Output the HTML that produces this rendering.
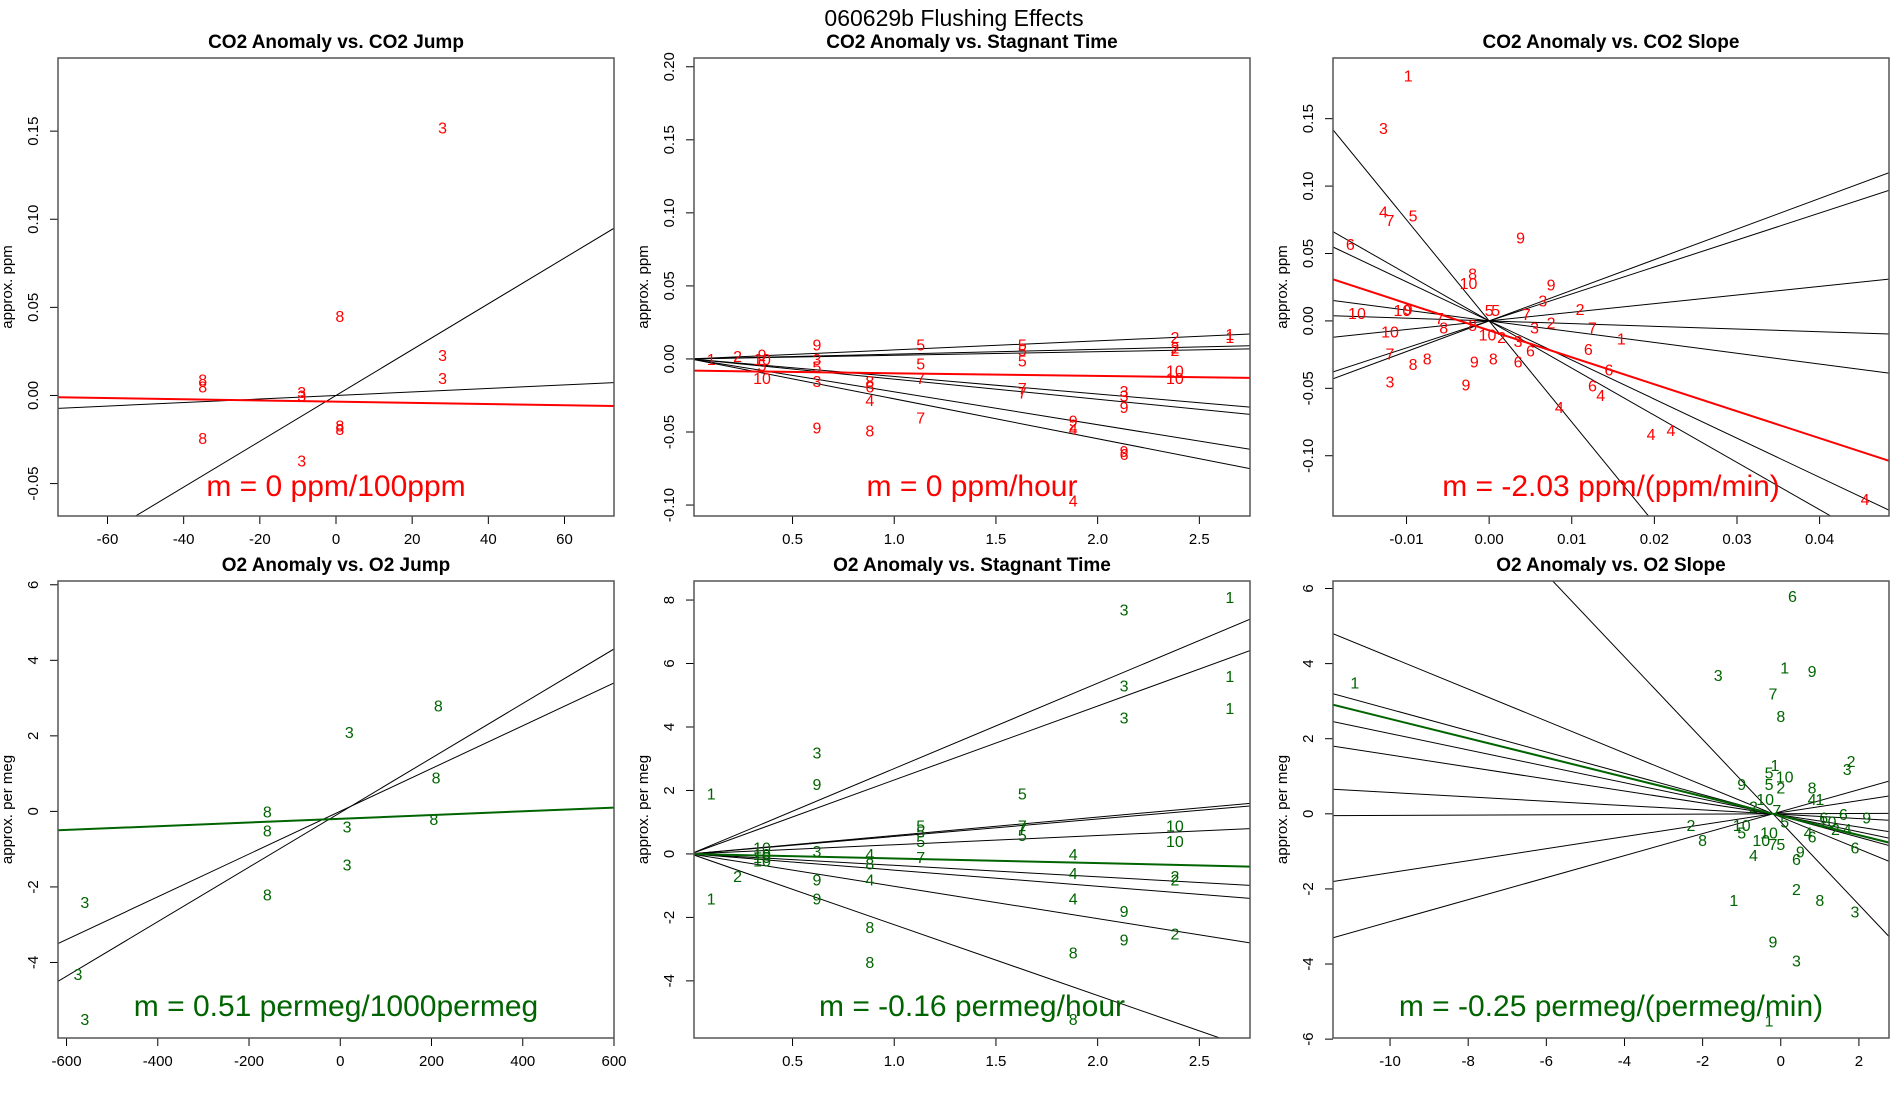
<!DOCTYPE html>
<html><head><meta charset="utf-8"><style>
html,body{margin:0;padding:0;background:#fff}
svg{display:block}
text{font-family:"Liberation Sans",sans-serif}
</style></head><body>
<svg id="chart" width="1900" height="1100" viewBox="0 0 1900 1100" xmlns="http://www.w3.org/2000/svg">
<text x="954" y="26" font-size="23" text-anchor="middle">060629b   Flushing Effects</text>
</svg>
<script>
// ---------- data ----------
const p1Points = [[28,0.152,"3"],[1,0.045,"8"],[28,0.023,"3"],[28,0.01,"3"],[-35,0.009,"8"],[-35,0.005,"8"],[-9,0.002,"3"],[-9,0.0,"3"],[1,-0.017,"8"],[1,-0.019,"8"],[-35,-0.024,"8"],[-9,-0.037,"3"]];
const p1Slopes = [0.0013,0.0001];
const p1Fit = [-0.0035,-0.0000343];
const p2Points = [[0.1,0.0,"1"],[0.23,0.002,"2"],[0.35,0.003,"9"],[0.35,0.0,"10"],[0.35,-0.004,"5"],[0.35,-0.013,"10"],[0.62,0.01,"9"],[0.62,0.0,"3"],[0.62,-0.005,"5"],[0.62,-0.015,"3"],[0.62,-0.047,"9"],[0.88,-0.015,"8"],[0.88,-0.019,"6"],[0.88,-0.028,"4"],[0.88,-0.049,"8"],[1.13,0.01,"5"],[1.13,-0.003,"5"],[1.13,-0.013,"7"],[1.13,-0.04,"7"],[1.63,0.01,"5"],[1.63,0.006,"5"],[1.63,-0.001,"5"],[1.63,-0.02,"7"],[1.63,-0.023,"7"],[1.88,-0.042,"9"],[1.88,-0.045,"2"],[1.88,-0.048,"4"],[1.88,-0.097,"4"],[2.13,-0.022,"3"],[2.13,-0.025,"3"],[2.13,-0.033,"9"],[2.13,-0.063,"9"],[2.13,-0.065,"6"],[2.38,0.015,"2"],[2.38,0.008,"2"],[2.38,0.006,"2"],[2.38,-0.008,"10"],[2.38,-0.013,"10"],[2.65,0.017,"1"],[2.65,0.015,"1"]];
const p2Slopes = [0.0062,0.0033,0.0025,-0.012,-0.0138,-0.0225,-0.0273];
const p2Fit = [-0.008,-0.0018];
const p3Points = [[-0.0098,0.182,"1"],[-0.0128,0.143,"3"],[-0.0128,0.081,"4"],[-0.012,0.075,"7"],[-0.0092,0.078,"5"],[-0.0168,0.057,"6"],[0.0038,0.062,"9"],[-0.002,0.035,"8"],[-0.0025,0.028,"10"],[0.0075,0.027,"9"],[0.0065,0.015,"3"],[-0.016,0.006,"10"],[-0.0105,0.008,"10"],[-0.0098,0.009,"9"],[-0.012,-0.008,"10"],[-0.006,0.002,"7"],[-0.0055,-0.005,"8"],[-0.002,-0.003,"8"],[0.0,0.008,"5"],[0.0008,0.008,"5"],[-0.0002,-0.01,"10"],[0.0015,-0.012,"2"],[0.0045,0.005,"7"],[0.0055,-0.005,"3"],[0.0075,-0.001,"2"],[0.011,0.009,"2"],[0.0125,-0.005,"7"],[0.016,-0.013,"1"],[0.0035,-0.015,"3"],[0.005,-0.022,"6"],[0.012,-0.021,"6"],[0.0145,-0.036,"6"],[0.0125,-0.048,"6"],[0.0035,-0.03,"6"],[0.0005,-0.028,"8"],[-0.0018,-0.03,"9"],[-0.0028,-0.047,"9"],[-0.0075,-0.028,"8"],[-0.0092,-0.032,"8"],[-0.012,-0.024,"7"],[-0.012,-0.045,"3"],[0.0085,-0.064,"4"],[0.0135,-0.055,"4"],[0.0196,-0.084,"4"],[0.022,-0.081,"4"],[0.0455,-0.132,"4"]];
const p3Slopes = [-7.5,-3.5,-2.9,-0.8,-0.2,0.64,2.0,2.27];
const p3Fit = [-0.007,-2.0];
const p4Points = [[-560,-2.4,"3"],[-575,-4.3,"3"],[-560,-5.5,"3"],[20,2.1,"3"],[15,-0.4,"3"],[15,-1.4,"3"],[-160,0.0,"8"],[-160,-0.5,"8"],[-160,-2.2,"8"],[215,2.8,"8"],[210,0.9,"8"],[205,-0.2,"8"]];
const p4Lines = [[-4.5,4.3],[-3.5,3.4]];
const p4Fit = [-0.5,0.1];
const p5Points = [[0.1,1.9,"1"],[0.1,-1.4,"1"],[0.23,-0.7,"2"],[0.35,0.2,"10"],[0.35,0.0,"10"],[0.35,-0.1,"10"],[0.35,-0.2,"10"],[0.62,3.2,"3"],[0.62,2.2,"9"],[0.62,0.1,"3"],[0.62,-0.8,"9"],[0.62,-1.4,"9"],[0.88,0.0,"4"],[0.88,-0.3,"8"],[0.88,-0.8,"4"],[0.88,-2.3,"8"],[0.88,-3.4,"8"],[1.13,0.9,"5"],[1.13,0.7,"5"],[1.13,0.4,"5"],[1.13,-0.1,"7"],[1.63,1.9,"5"],[1.63,0.9,"7"],[1.63,0.8,"7"],[1.63,0.6,"5"],[1.88,0.0,"4"],[1.88,-0.6,"4"],[1.88,-1.4,"4"],[1.88,-3.1,"8"],[1.88,-5.2,"8"],[2.13,7.7,"3"],[2.13,5.3,"3"],[2.13,4.3,"3"],[2.13,-1.8,"9"],[2.13,-2.7,"9"],[2.38,0.9,"10"],[2.38,0.4,"10"],[2.38,-0.7,"2"],[2.38,-0.8,"2"],[2.38,-2.5,"2"],[2.65,8.1,"1"],[2.65,5.6,"1"],[2.65,4.6,"1"]];
const p5Slopes = [2.69,2.33,0.58,0.55,0.29,-0.36,-0.51,-1.02,-2.23];
const p5Fit = [0,-0.145];
const p6Points = [[-10.9,3.5,"1"],[-1.6,3.7,"3"],[0.1,3.9,"1"],[0.8,3.8,"9"],[-0.2,3.2,"7"],[0.0,2.6,"8"],[0.3,5.8,"6"],[1.8,1.4,"2"],[1.7,1.2,"3"],[-1.0,0.8,"9"],[-0.3,1.1,"5"],[-0.15,1.3,"1"],[0.1,1.0,"10"],[-0.3,0.8,"5"],[0.0,0.7,"2"],[0.8,0.7,"8"],[0.8,0.4,"4"],[1.0,0.4,"1"],[-0.4,0.4,"10"],[-0.7,0.2,"2"],[-0.1,0.1,"7"],[0.1,-0.2,"5"],[1.1,-0.1,"6"],[1.6,0.0,"6"],[2.2,-0.1,"9"],[1.2,-0.2,"10"],[1.4,-0.4,"2"],[1.7,-0.4,"4"],[-2.3,-0.3,"2"],[-1.0,-0.3,"10"],[-1.0,-0.5,"5"],[-0.3,-0.5,"10"],[-2.0,-0.7,"8"],[-0.5,-0.7,"10"],[-0.2,-0.8,"7"],[0.0,-0.8,"5"],[0.7,-0.5,"4"],[0.8,-0.6,"6"],[1.9,-0.9,"6"],[-0.7,-1.1,"4"],[0.5,-1.0,"9"],[0.4,-1.2,"6"],[-1.2,-2.3,"1"],[0.4,-2.0,"2"],[1.0,-2.3,"8"],[1.9,-2.6,"3"],[-0.2,-3.4,"9"],[0.4,-3.9,"3"],[-0.3,-5.5,"1"]];
const p6Slopes = [-1.1,-0.426,-0.284,-0.218,-0.16,-0.058,0.0044,0.16,0.293];
const p6Fit = [0,-0.258];
const p6Pivot = -0.2;
const p1XTicks=[-60,-40,-20,0,20,40,60], p1YTicks=["-0.05","0.00","0.05","0.10","0.15"];
const p2XTicks=["0.5","1.0","1.5","2.0","2.5"], p2YTicks=["-0.10","-0.05","0.00","0.05","0.10","0.15","0.20"];
const p3XTicks=["-0.01","0.00","0.01","0.02","0.03","0.04"], p3YTicks=["-0.10","-0.05","0.00","0.05","0.10","0.15"];
const p4XTicks=[-600,-400,-200,0,200,400,600], p4YTicks=[-4,-2,0,2,4,6];
const p5XTicks=["0.5","1.0","1.5","2.0","2.5"], p5YTicks=[-4,-2,0,2,4,6,8];
const p6XTicks=[-10,-8,-6,-4,-2,0,2], p6YTicks=[-6,-4,-2,0,2,4,6];

// ---------- drawing ----------
const NS="http://www.w3.org/2000/svg";
const svg=document.getElementById('chart');
function mk(tag,attrs,parent){const e=document.createElementNS(NS,tag);for(const k in attrs)e.setAttribute(k,attrs[k]);(parent||svg).appendChild(e);return e;}
let clipN=0;
function panel(cfg){
  const g=mk('g',{});
  
  
  const L=cfg.x0,R=cfg.x0+cfg.w,T=cfg.y0,B=cfg.y0+cfg.h;
  const sx=v=>L+(v-cfg.xd[0])/(cfg.xd[1]-cfg.xd[0])*cfg.w;
  const sy=v=>B-(v-cfg.yd[0])/(cfg.yd[1]-cfg.yd[0])*cfg.h;
  const id='clip'+(clipN++);
  const cp=mk('clipPath',{id:id},g);mk('rect',{x:L,y:T,width:cfg.w,height:cfg.h},cp);
  const t=mk('text',{x:(L+R)/2,y:T-10,'font-size':19,'font-weight':'bold','text-anchor':'middle'},g);
  t.textContent=cfg.title;
  
  
  const yt=mk('text',{x:0,y:0,'font-size':15,'text-anchor':'middle',transform:`translate(${L-46},${(T+B)/2}) rotate(-90)`},g);
  yt.textContent=cfg.ylab;
  
  
  cfg.xt.forEach(v=>{const x=sx(+v);mk('line',{x1:x,x2:x,y1:B,y2:B+8,stroke:'#000'},g);
    const tx=mk('text',{x:x,y:B+28,'font-size':15,'text-anchor':'middle'},g);tx.textContent=String(v);
    
    });
  cfg.yt.forEach(v=>{const y=sy(+v);mk('line',{x1:L-8,x2:L,y1:y,y2:y,stroke:'#000'},g);
    const ty=mk('text',{x:0,y:0,'font-size':15,'text-anchor':'middle',transform:`translate(${L-20},${y}) rotate(-90)`},g);ty.textContent=String(v);
    
    });
  const inner=mk('g',{'clip-path':`url(#${id})`},g);
  cfg.lines.forEach(([a,b])=>{const l=mk('line',{x1:sx(cfg.xd[0]),y1:sy(a+b*cfg.xd[0]),x2:sx(cfg.xd[1]),y2:sy(a+b*cfg.xd[1]),stroke:'#000','stroke-width':1},inner);
    
    });
  const f=cfg.fit;
  const fl=mk('line',{x1:sx(cfg.xd[0]),y1:sy(f[0]+f[1]*cfg.xd[0]),x2:sx(cfg.xd[1]),y2:sy(f[0]+f[1]*cfg.xd[1]),stroke:cfg.col,'stroke-width':2},inner);
  
  
  cfg.pts.forEach(p=>{const tp=mk('text',{x:sx(p[0]),y:sy(p[1])+6,'font-size':16,fill:cfg.col,'text-anchor':'middle'},inner);tp.textContent=p[2];
    
    });
  const an=mk('text',{x:(L+R)/2,y:cfg.annY,'font-size':30,fill:cfg.col,'text-anchor':'middle'},g);an.textContent=cfg.ann;
  
  
  mk('rect',{x:L,y:T,width:cfg.w,height:cfg.h,fill:'none',stroke:'#555','stroke-width':1.5},g);
}
const W=556, H1=458, H2=457;
const through0=(s)=>s.map(b=>[0,b]);
panel({name:'panel-co2-jump',title:'CO2 Anomaly vs. CO2 Jump',ylab:'approx. ppm',x0:58,y0:58,w:W,h:H1,xd:[-73,73],yd:[-0.0684,0.1915],xt:p1XTicks,yt:p1YTicks,lines:through0(p1Slopes),fit:p1Fit,pts:p1Points,col:'#ff0000',ann:'m = 0 ppm/100ppm',annY:496});
panel({name:'panel-co2-stagnant',title:'CO2 Anomaly vs. Stagnant Time',ylab:'approx. ppm',x0:694,y0:58,w:W,h:H1,xd:[0.0156,2.749],yd:[-0.1075,0.206],xt:p2XTicks,yt:p2YTicks,lines:through0(p2Slopes),fit:p2Fit,pts:p2Points,col:'#ff0000',ann:'m = 0 ppm/hour',annY:496});
panel({name:'panel-co2-slope',title:'CO2 Anomaly vs. CO2 Slope',ylab:'approx. ppm',x0:1333,y0:58,w:W,h:H1,xd:[-0.0189,0.0484],yd:[-0.1447,0.195],xt:p3XTicks,yt:p3YTicks,lines:through0(p3Slopes),fit:p3Fit,pts:p3Points,col:'#ff0000',ann:'m = -2.03 ppm/(ppm/min)',annY:496});
const xd4=[-618.7,600];
panel({name:'panel-o2-jump',title:'O2 Anomaly vs. O2 Jump',ylab:'approx. per meg',x0:58,y0:581,w:W,h:H2,xd:xd4,yd:[-6.0,6.1],xt:p4XTicks,yt:p4YTicks,
  lines:p4Lines.map(([a,b])=>{const s=(b-a)/(xd4[1]-xd4[0]);return [a-s*xd4[0],s];}),
  fit:(()=>{const s=(p4Fit[1]-p4Fit[0])/(xd4[1]-xd4[0]);return [p4Fit[0]-s*xd4[0],s];})(),pts:p4Points,col:'#006400',ann:'m = 0.51 permeg/1000permeg',annY:1016});
panel({name:'panel-o2-stagnant',title:'O2 Anomaly vs. Stagnant Time',ylab:'approx. per meg',x0:694,y0:581,w:W,h:H2,xd:[0.0156,2.749],yd:[-5.8,8.6],xt:p5XTicks,yt:p5YTicks,lines:through0(p5Slopes),fit:p5Fit,pts:p5Points,col:'#006400',ann:'m = -0.16 permeg/hour',annY:1016});
panel({name:'panel-o2-slope',title:'O2 Anomaly vs. O2 Slope',ylab:'approx. per meg',x0:1333,y0:581,w:W,h:H2,xd:[-11.46,2.77],yd:[-5.97,6.2],xt:p6XTicks,yt:p6YTicks,
  lines:p6Slopes.map(s=>[-s*p6Pivot,s]),fit:[-p6Fit[1]*p6Pivot,p6Fit[1]],pts:p6Points,col:'#006400',ann:'m = -0.25 permeg/(permeg/min)',annY:1016});
</script>
</body></html>
